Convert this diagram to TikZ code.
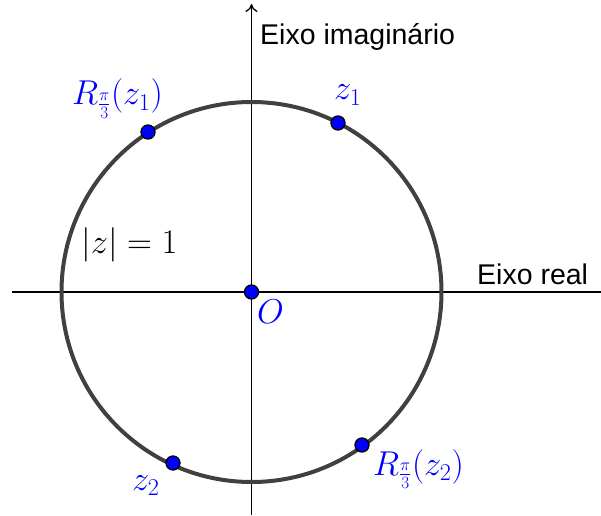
\RequirePackage{fix-cm}
\documentclass[tikz,border=0pt]{standalone}
\usepackage{fontspec}
\setsansfont{Liberation Sans}
\usetikzlibrary{arrows.meta}
\definecolor{ggblue}{RGB}{0,0,255}
\definecolor{ggcircle}{RGB}{64,64,64}
\begin{document}
\begin{tikzpicture}[x=1pt,y=1pt,
  axis/.style={line width=1.3pt,black,-{To[length=8pt,width=12pt]}},
  pt/.style={circle,fill=ggblue,draw=black,line width=1.3pt,inner sep=0pt,minimum size=14pt},
  lbl/.style={text=ggblue,anchor=base west,inner sep=0pt,font=\fontsize{34.5}{40}\selectfont},
  axlbl/.style={anchor=base west,inner sep=0pt,font=\sffamily\fontsize{28.5}{31}\selectfont}]
\useasboundingbox (0,0) rectangle (601,515);
\coordinate (xl) at (12,223);
\coordinate (xr) at (609,223);
\coordinate (yb) at (251.5,0);
\coordinate (yt) at (251.5,511);
\draw[axis] (xl) -- (xr);
\draw[axis] (yb) -- (yt);
\draw[ggcircle,line width=4pt] (251.5,223) circle[radius=190];
\node[axlbl] (ei) at (260,470) {Eixo imaginário};
\node[axlbl] (er) at (477,231) {Eixo real};
\node[pt] (O) at (251.5,223) {};
\node[pt] (z1) at (338,392) {};
\node[pt] (rz1) at (148,383) {};
\node[pt] (z2) at (173,52) {};
\node[pt] (rz2) at (362,70) {};
\node[lbl] (lO) at (257,192) {$O$};
\node[lbl] (lz1) at (334,415) {$z_1$};
\node[lbl] (lrz1) at (72,410) {$R_{\frac{\pi}{3}}(z_1)$};
\node[lbl] (lz2) at (132,25) {$z_2$};
\node[lbl] (lrz2) at (373,40) {$R_{\frac{\pi}{3}}(z_2)$};
\node[lbl,text=black] (mod) at (81,262) {$|z|=1$};
\end{tikzpicture}
\end{document}
